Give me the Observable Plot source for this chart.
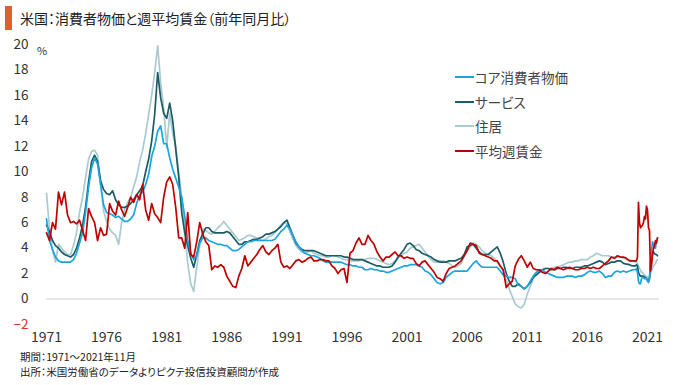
<!DOCTYPE html>
<html><head><meta charset="utf-8">
<script src="https://cdn.jsdelivr.net/npm/d3@7"></script>
<script src="https://cdn.jsdelivr.net/npm/@observablehq/plot@0.6"></script>
<style>
body{margin:0;background:#fff;font-family:"Noto Sans CJK JP","Noto Sans",sans-serif;}
#wrap{position:relative;width:680px;height:385px;overflow:hidden;background:#fff;}
#title{position:absolute;left:5px;top:6px;height:24px;display:flex;align-items:center;font-size:14px;color:#222;font-feature-settings:"palt";white-space:nowrap;z-index:2;}
#title .bar{width:7px;height:24px;background:#e0602a;margin-right:8px;}
#chart{position:absolute;left:0;top:30px;}
#chart svg{overflow:visible;}
#pct{position:absolute;left:37px;top:42px;font-size:11px;color:#333;}
#legend{position:absolute;left:455px;top:65px;font-size:13.5px;color:#444;font-feature-settings:"palt";}
#legend .it{display:flex;align-items:center;height:24.5px;}
#legend .ln{width:19px;height:2px;margin-right:1px;}
#foot{position:absolute;left:20px;top:349px;font-size:10.5px;color:#222;line-height:15px;font-feature-settings:"palt";white-space:nowrap;}
</style></head>
<body><div id="wrap">
<div id="title"><div class="bar"></div>米国：消費者物価と週平均賃金（前年同月比）</div>
<div id="chart"></div>
<div id="pct">%</div>
<div id="legend"></div>
<div id="foot">期間：1971～2021年11月<br>出所：米国労働省のデータよりピクテ投信投資顧問が作成</div>
</div>
<script>
// Series names & colors
const seriesNames = ["コア消費者物価", "サービス", "住居", "平均週賃金"];
const seriesColors = ["#1aa5e0", "#1b5c66", "#a9cbcf", "#c00000"];
const xTicks = [1971, 1976, 1981, 1986, 1991, 1996, 2001, 2006, 2011, 2016, 2021];
const yTicks = [0, 2, 4, 6, 8, 10, 12, 14, 16, 18, 20];
const yNegTicks = [-2];

// Quarterly values (Jan, Apr, Jul, Oct) 1971–2019, % YoY
const coreQ = [
6.3,4.6,3.9,3.3, 3.0,2.9,2.9,2.9, 2.9,3.1,3.6,4.4, 5.2,6.8,8.8,10.3, 11.1,10.6,9.0,7.4,
6.8,6.7,6.6,6.4, 6.5,6.3,6.1,6.1, 6.3,6.6,7.5,8.2, 8.4,9.0,9.8,11.2, 12.0,13.2,13.6,12.2,
12.2,11.1,10.2,9.5, 8.8,8.0,6.5,4.6, 3.6,3.1,3.4,4.4, 4.8,4.8,4.6,4.5, 4.4,4.3,4.3,4.2,
4.2,4.0,3.8,3.8, 3.9,4.1,4.3,4.5, 4.5,4.6,4.6,4.6, 4.6,4.6,4.6,4.6, 4.7,5.0,5.3,5.5,
5.8,5.5,5.0,4.5, 4.1,3.8,3.6,3.5, 3.4,3.4,3.3,3.2, 3.0,2.9,2.9,2.9, 2.9,2.9,2.9,2.8,
2.7,2.7,2.6,2.6, 2.5,2.5,2.3,2.3, 2.4,2.3,2.3,2.2, 2.2,2.1,2.1,2.2, 2.3,2.4,2.5,2.6,
2.6,2.7,2.7,2.7, 2.6,2.5,2.2,2.1, 1.9,1.6,1.3,1.2, 1.3,1.7,1.9,2.1, 2.2,2.2,2.2,2.2,
2.2,2.5,2.8,3.0, 2.7,2.5,2.5,2.5, 2.5,2.5,2.5,2.2, 1.9,1.8,1.7,1.7, 1.6,1.1,1.0,0.8,
1.0,1.4,1.8,2.1, 2.3,2.3,2.1,2.0, 1.9,1.8,1.7,1.7, 1.7,1.8,1.8,1.8, 1.7,1.8,1.8,1.9,
2.1,2.2,2.1,2.1, 2.2,2.0,1.7,1.8, 1.8,2.1,2.2,2.1, 2.2,2.1,2.2,2.3
];
const servQ = [
5.8,5.3,4.6,4.2, 4.0,3.7,3.5,3.4, 3.3,3.5,4.0,4.8, 5.8,7.2,9.2,10.8, 11.3,10.8,9.3,8.6,
8.3,8.2,8.5,7.8, 7.4,7.2,7.2,7.3, 7.5,7.8,8.2,8.5, 8.9,10.0,11.0,12.4, 14.5,17.8,15.8,14.6,
14.2,15.4,14.0,11.8, 9.6,6.8,5.2,4.2, 3.2,2.5,3.5,4.6, 5.1,5.6,5.6,5.3, 5.2,5.2,5.2,5.2,
5.3,5.2,4.9,4.6, 4.3,4.3,4.5,4.5, 4.6,4.7,4.7,4.8, 4.9,5.1,5.1,5.2, 5.3,5.5,5.7,6.0,
6.2,5.6,5.0,4.4, 4.1,3.9,3.8,3.8, 3.8,3.8,3.7,3.6, 3.5,3.4,3.4,3.4, 3.4,3.4,3.4,3.3,
3.3,3.2,3.1,3.1, 3.1,3.1,3.0,2.9, 2.8,2.7,2.6,2.6, 2.5,2.5,2.5,2.6, 2.9,3.3,3.6,3.9,
4.3,4.4,4.2,3.9, 3.8,3.6,3.5,3.4, 3.3,3.1,3.0,2.9, 2.9,2.9,3.0,3.0, 3.0,3.1,3.2,3.5,
4.1,4.2,4.3,4.0, 3.7,3.5,3.5,3.5, 3.7,3.9,4.1,3.6, 2.9,2.0,1.4,1.0, 1.0,1.2,1.0,0.8,
1.0,1.3,1.7,1.9, 2.1,2.3,2.4,2.4, 2.3,2.3,2.4,2.4, 2.5,2.5,2.4,2.4, 2.5,2.5,2.5,2.6,
2.6,2.7,2.8,2.9, 3.0,2.9,2.7,2.8, 2.9,2.9,3.0,3.0, 2.8,2.75,2.7,2.6
];
const shelQ = [
8.3,5.6,3.8,2.9, 4.3,4.0,3.7,3.5, 3.5,4.2,5.2,6.8, 8.0,9.5,11.0,11.6, 11.7,11.3,9.0,6.9,
6.1,5.5,5.2,5.0, 4.3,6.0,7.0,7.6, 8.0,8.8,9.6,10.8, 11.7,13.0,14.5,16.0, 17.8,19.9,17.0,15.0,
11.9,14.6,13.0,12.0, 10.0,8.0,5.5,2.8, 1.2,0.6,2.5,4.2, 5.5,5.4,5.2,5.1, 5.3,5.6,5.8,6.1,
5.8,5.5,5.2,4.9, 4.6,4.7,4.8,5.0, 5.0,4.9,4.8,4.7, 4.6,4.7,4.9,5.0, 5.2,5.5,5.8,6.0,
5.9,5.3,4.7,4.2, 3.9,3.7,3.6,3.7, 3.8,3.6,3.5,3.4, 3.4,3.3,3.3,3.4, 3.4,3.3,3.2,3.1,
3.1,3.0,3.0,3.0, 3.0,3.1,3.1,3.2, 3.2,3.2,3.1,3.0, 2.9,2.8,2.7,2.8, 3.0,3.2,3.4,3.6,
3.7,4.0,4.1,4.2, 4.3,4.0,3.7,3.4, 3.1,2.9,2.9,3.0, 3.0,2.9,2.8,2.6, 2.5,2.6,2.8,3.4,
3.8,4.1,4.4,4.3, 4.1,3.8,3.6,3.5, 3.4,3.2,2.9,2.6, 2.2,1.5,0.8,0.2, -0.4,-0.6,-0.7,-0.4,
0.4,1.0,1.6,2.0, 2.2,2.3,2.4,2.4, 2.4,2.5,2.5,2.6, 2.7,2.8,2.9,2.9, 3.0,3.0,3.1,3.1,
3.1,3.3,3.4,3.6, 3.5,3.4,3.4,3.4, 3.3,3.3,3.3,3.3, 3.2,3.1,3.1,3.0
];
const wageQ = [
5.2,4.6,6.0,5.5, 8.4,7.4,8.4,6.6, 6.0,6.1,5.9,6.2, 5.4,4.6,7.1,6.5, 6.0,4.6,5.6,5.0,
5.1,7.5,6.9,6.6, 7.7,7.0,6.5,7.2, 8.0,7.6,8.2,7.8, 9.0,7.0,6.2,7.5, 6.7,6.4,6.0,8.0,
9.2,9.6,9.0,7.2, 4.8,4.8,4.0,6.8, 3.5,3.3,4.5,6.0, 5.1,4.5,4.2,2.3, 2.6,2.5,2.7,2.5,
1.8,1.4,1.0,0.9, 1.8,2.4,3.4,2.6, 2.9,3.2,3.5,3.9, 4.2,3.7,3.5,3.8, 4.0,4.3,2.9,2.5,
2.6,2.4,2.7,3.0, 3.1,2.9,3.0,3.2, 3.3,3.0,3.0,3.1, 3.1,3.0,3.0,2.6, 2.4,2.0,2.3,2.4,
1.3,3.6,3.8,4.4, 4.8,4.3,4.3,5.0, 4.6,4.3,3.7,3.3, 3.0,3.3,3.3,3.5, 3.7,3.4,3.4,3.2,
3.3,3.2,3.2,2.8, 2.6,2.9,3.0,2.7, 2.4,2.1,1.7,1.6, 1.4,2.0,2.4,2.5, 2.6,2.8,3.0,3.4,
3.8,4.4,4.3,4.2, 3.6,3.5,3.4,3.3, 3.2,3.0,3.0,2.6, 2.3,0.9,1.2,1.4, 2.6,3.1,3.4,3.0,
2.5,2.9,2.4,2.3, 2.3,2.1,2.0,2.2, 2.4,2.3,2.5,2.4, 2.3,2.4,2.5,2.4, 2.3,2.3,2.4,2.4,
2.5,2.4,2.5,2.4, 2.4,2.6,2.8,3.0, 3.3,3.2,3.4,3.3, 3.3,3.2,3.0,3.0
];
// Monthly values Jan 2020 – Nov 2021
const coreM = [2.3,2.4,2.1,1.4,1.2,1.2,1.6,1.7,1.7,1.6,1.6,1.6, 1.4,1.3,1.6,3.0,3.8,4.5,4.3,4.0,4.0,4.6,4.8];
const servM = [2.6,2.7,2.6,2.1,1.9,1.8,1.8,1.8,1.8,1.7,1.7,1.6, 1.5,1.4,1.6,2.6,3.0,3.5,3.7,3.6,3.5,3.5,3.4];
const shelM = [2.9,2.9,2.8,2.6,2.4,2.3,2.1,2.1,2.0,1.9,1.8,1.8, 1.7,1.6,1.7,2.0,2.2,2.4,2.6,2.7,2.8,3.0,3.1];
const wageM = [3.0,3.0,3.3,7.6,6.0,5.6,5.7,5.8,6.0,6.5,6.3,7.3, 7.0,5.6,5.4,2.2,2.6,3.5,4.0,4.2,4.6,4.4,4.8];

function build(q, m, name) {
  const rows = q.map((v, i) => ({t: 1971 + i * 0.25, v, s: name}));
  m.forEach((v, i) => rows.push({t: 2020 + i / 12, v, s: name}));
  return rows;
}
const data = [
  build(shelQ, shelM, seriesNames[2]),
  build(servQ, servM, seriesNames[1]),
  build(coreQ, coreM, seriesNames[0]),
  build(wageQ, wageM, seriesNames[3])
];
const order = [2, 1, 0, 3];

const chart = Plot.plot({
  width: 680,
  height: 318,
  marginLeft: 46,
  marginRight: 21,
  marginTop: 14,
  marginBottom: 24,
  style: {fontFamily: '"Noto Sans CJK JP","Noto Sans",sans-serif', background: "transparent", overflow: "visible"},
  x: {domain: [1971, 2022], axis: null, label: null},
  y: {domain: [-2, 20], axis: null, label: null},
  marks: [
    Plot.ruleY([0], {stroke: "#cfcfcf", strokeWidth: 1}),
    Plot.axisX(xTicks, {tickSize: 0, tickPadding: 8, fontSize: 14, fill: "#333", label: null, tickFormat: d => String(d)}),
    Plot.axisY(yTicks, {tickSize: 0, tickPadding: 18, fontSize: 13.5, fill: "#333", label: null}),
    Plot.axisY(yNegTicks, {tickSize: 0, tickPadding: 18, fontSize: 13.5, fill: "#e03030", label: null, tickFormat: d => "−" + Math.abs(d)}),
    ...data.map((rows, k) => Plot.line(rows, {x: "t", y: "v", stroke: seriesColors[order[k]], strokeWidth: 1.7, strokeLinejoin: "round"}))
  ]
});
document.getElementById("chart").appendChild(chart);

const lg = document.getElementById("legend");
seriesNames.forEach((n, i) => {
  const it = document.createElement("div");
  it.className = "it";
  it.innerHTML = `<span class="ln" style="background:${seriesColors[i]}"></span><span>${n}</span>`;
  lg.appendChild(it);
});
</script>
</body></html>
